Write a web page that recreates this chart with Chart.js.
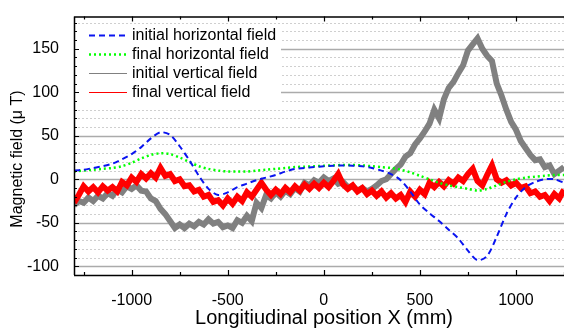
<!DOCTYPE html>
<html>
<head>
<meta charset="utf-8">
<script src="https://cdn.jsdelivr.net/npm/chart.js@4.4.1/dist/chart.umd.min.js"></script>
<style>
  html, body { margin: 0; padding: 0; background: #fff; }
  canvas { display: block; }
</style>
</head>
<body>
<canvas id="fieldChart" width="564" height="330"></canvas>
<script>
// positions along the magnet (mm)
const xSmooth = [-1300, -1250, -1200, -1150, -1100, -1050, -1000, -950, -900, -850,
    -800, -750, -700, -650, -600, -550, -500, -450, -400, -350,
    -300, -250, -200, -150, -100, -50, 0, 50, 100, 150,
    200, 250, 300, 350, 400, 450, 500, 550, 600, 650,
    700, 750, 800, 850, 900, 950, 1000, 1050, 1100, 1150,
    1200, 1250];

const xNoisy = [-1300, -1275, -1250, -1225, -1200, -1175, -1150, -1125, -1100, -1075,
    -1050, -1025, -1000, -975, -950, -925, -900, -875, -850, -825,
    -800, -775, -750, -725, -700, -675, -650, -625, -600, -575,
    -550, -525, -500, -475, -450, -425, -400, -375, -350, -325,
    -300, -275, -250, -225, -200, -175, -150, -125, -100, -75,
    -50, -25, 0, 25, 50, 75, 100, 125, 150, 175,
    200, 225, 250, 275, 300, 325, 350, 375, 400, 425,
    450, 475, 500, 525, 550, 575, 600, 625, 650, 675,
    700, 725, 750, 775, 800, 825, 850, 875, 900, 925,
    950, 975, 1000, 1025, 1050, 1075, 1100, 1125, 1150, 1175,
    1200, 1225, 1250];

// magnetic field (uT)
const initialHorizontal = [10, 11, 13, 15, 18, 23, 29, 37, 47, 54,
    51, 38, 22, 4, -11, -18, -15, -9, -5, -1,
    2, 5, 9, 12, 13, 14, 15, 15.5, 16, 15.5,
    15, 13, 10, 6, -1, -14, -29, -39, -48, -58,
    -68, -82, -93, -88, -66, -40, -21, -9, -3, 0,
    0, -4];

const finalHorizontal = [9, 10, 11, 12, 13, 15, 19, 24, 28, 30,
    29, 25, 20, 15, 12, 10, 9, 9, 9, 10,
    11, 12, 13, 14, 14.5, 15, 15.5, 16, 16.5, 16.5,
    16, 15, 14, 13, 11, 8, 4, 0, -4, -7,
    -9, -11, -13, -11, -7, -3, 0, 2, 3, 4,
    5, 5];

const initialVertical = [-30, -25, -27, -21, -25, -19, -22, -16, -19, -12,
    -15, -8, -11, -7, -13, -14, -22, -25, -34, -40,
    -48, -56, -52, -56, -51, -54, -49, -52, -46, -51,
    -49, -55, -53, -56, -47, -50, -42, -48, -27, -33,
    -18, -22, -15, -20, -13, -17, -10, -14, -4, -7,
    -1, -4, 2, -2, 1, -5, -3, -9, -8, -13,
    -10, -14, -11, -7, -2, 0, 6, 12, 17, 26,
    30, 40, 47, 55, 64, 80, 70, 92, 105, 112,
    122, 131, 148, 155, 162, 150, 142, 136, 110, 96,
    80, 66, 57, 44, 36, 28, 22, 23, 14, 16,
    6, 10, 14];

const finalVertical = [-27, -18, -8, -14, -9, -15, -8, -13, -9, -14,
    -3, -7, 2, -3, 6, 1, 7, 2, 13, 4,
    6, -2, 0, -8, -7, -14, -12, -20, -18, -26,
    -24, -30, -22, -28, -20, -25, -15, -20, -12, -4,
    -12, -18, -12, -17, -10, -15, -8, -13, -6, -11,
    -5, -10, -4, -9, -2, 6, -6, -11, -7, -14,
    -10, -17, -13, -19, -14, -21, -16, -22, -18, -26,
    -14, -20, -12, -17, -4, -9, -3, -8, -1, -5,
    2, -2, 6, 12, -2, -7, 5, 16, 0, -4,
    -1, -7, -4, -10, -8, -16, -14, -20, -18, -25,
    -17, -22, -12];

const xTicks = [-1000, -500, 0, 500, 1000];
const yTicks = [-100, -50, 0, 50, 100, 150];

const seriesNames = ['initial horizontal field', 'final horizontal field',
    'initial vertical field', 'final vertical field'];

const FONT = '"Liberation Sans", Arial, sans-serif';

function pts(xs, ys) {
    return xs.map((x, i) => ({ x: x, y: ys[i] }));
}

const styles = [
    { color: '#0a14f0', width: 2, dash: [6, 4] },
    { color: '#00ff00', width: 2.5, dash: [2, 3] },
    { color: '#808080', width: 6, dash: [] },
    { color: '#ff0000', width: 6, dash: [] }
];

const decor = {
    id: 'decor',
    beforeDatasetsDraw(chart) {
        const { ctx, chartArea: a, scales: { y } } = chart;
        ctx.save();
        for (let v = -100; v <= 180; v += 10) {
            const py = Math.round(y.getPixelForValue(v)) + 0.5;
            ctx.beginPath();
            if (v % 50 === 0) {
                ctx.strokeStyle = '#ababab';
                ctx.lineWidth = 1.5;
                ctx.setLineDash([]);
            } else {
                ctx.strokeStyle = '#cfcfcf';
                ctx.lineWidth = 1;
                ctx.setLineDash([2, 2]);
            }
            ctx.moveTo(a.left, py);
            ctx.lineTo(a.right, py);
            ctx.stroke();
        }
        ctx.restore();
    },
    afterDatasetsDraw(chart) {
        const { ctx, chartArea: a } = chart;
        ctx.save();
        // legend box
        ctx.fillStyle = '#fff';
        ctx.fillRect(a.left + 1, 24, 206, 80);
        const rows = [35, 54, 73, 92];
        ctx.font = '16px ' + FONT;
        ctx.textBaseline = 'middle';
        rows.forEach((ry, i) => {
            const s = styles[i];
            ctx.beginPath();
            ctx.strokeStyle = s.color;
            ctx.lineWidth = i < 2 ? s.width : 1.2;
            ctx.setLineDash(s.dash);
            ctx.moveTo(89, ry + 0.5);
            ctx.lineTo(127, ry + 0.5);
            ctx.stroke();
            ctx.setLineDash([]);
            ctx.fillStyle = '#000';
            ctx.fillText(seriesNames[i], 132, ry + 1);
        });
        ctx.restore();
    },
    afterDraw(chart) {
        const { ctx, chartArea: a, scales: { x, y } } = chart;
        ctx.save();
        ctx.strokeStyle = '#000';
        ctx.lineWidth = 1.5;
        ctx.beginPath();
        ctx.moveTo(a.left + 0.5, a.top);
        ctx.lineTo(a.left + 0.5, a.bottom);
        ctx.moveTo(a.left, a.top + 0.5);
        ctx.lineTo(a.right, a.top + 0.5);
        ctx.moveTo(a.left, a.bottom + 0.5);
        ctx.lineTo(a.right, a.bottom + 0.5);
        ctx.stroke();

        ctx.lineWidth = 1.2;
        ctx.beginPath();
        for (let v = -100; v <= 180; v += 10) {
            const py = Math.round(y.getPixelForValue(v)) + 0.5;
            const len = v % 50 === 0 ? 5 : 3;
            ctx.moveTo(a.left, py);
            ctx.lineTo(a.left + len, py);
        }
        for (let v = -1250; v <= 1250; v += 250) {
            const px = Math.round(x.getPixelForValue(v)) + 0.5;
            const len = v % 500 === 0 ? 5 : 3;
            ctx.moveTo(px, a.bottom);
            ctx.lineTo(px, a.bottom - len);
            ctx.moveTo(px, a.top);
            ctx.lineTo(px, a.top + len);
        }
        ctx.stroke();

        // axis titles
        ctx.fillStyle = '#000';
        ctx.textAlign = 'center';
        ctx.textBaseline = 'middle';
        ctx.font = '20px ' + FONT;
        ctx.fillText('Longitiudinal position X (mm)', 324, 318);
        ctx.translate(18, 159);
        ctx.rotate(-Math.PI / 2);
        ctx.font = '16px ' + FONT;
        ctx.fillText('Magnetic field (\u03bc T)', 0, 0);
        ctx.restore();
    }
};

new Chart(document.getElementById('fieldChart').getContext('2d'), {
    type: 'line',
    data: {
        datasets: [
            { data: pts(xSmooth, initialHorizontal), order: 0 },
            { data: pts(xSmooth, finalHorizontal), order: 1 },
            { data: pts(xNoisy, initialVertical), order: 3 },
            { data: pts(xNoisy, finalVertical), order: 2 }
        ].map((d, i) => Object.assign({
            label: seriesNames[i],
            borderColor: styles[i].color,
            borderWidth: styles[i].width,
            borderDash: styles[i].dash,
            borderJoinStyle: i < 2 ? 'round' : 'miter',
            pointRadius: 0,
            tension: i < 2 ? 0.3 : 0,
            fill: false
        }, d))
    },
    options: {
        responsive: false,
        animation: false,
        layout: { padding: { top: 13, right: 0, left: 0, bottom: 0 } },
        scales: {
            x: {
                type: 'linear',
                min: -1300,
                max: 1250,
                afterBuildTicks: s => { s.ticks = xTicks.map(v => ({ value: v })); },
                afterFit: s => { s.height = 55; },
                grid: { display: false },
                border: { display: false },
                ticks: {
                    color: '#000', font: { size: 16, family: FONT }, padding: 8, maxRotation: 0,
                    callback: v => String(v)
                }
            },
            y: {
                min: -110,
                max: 187,
                afterBuildTicks: s => { s.ticks = yTicks.map(v => ({ value: v })); },
                afterFit: s => { s.width = 74; },
                grid: { display: false },
                border: { display: false },
                ticks: {
                    color: '#000', font: { size: 16, family: FONT }, padding: 7,
                    callback: v => String(v)
                }
            }
        },
        plugins: {
            legend: { display: false },
            tooltip: { enabled: false }
        }
    },
    plugins: [decor]
});
</script>
</body>
</html>
